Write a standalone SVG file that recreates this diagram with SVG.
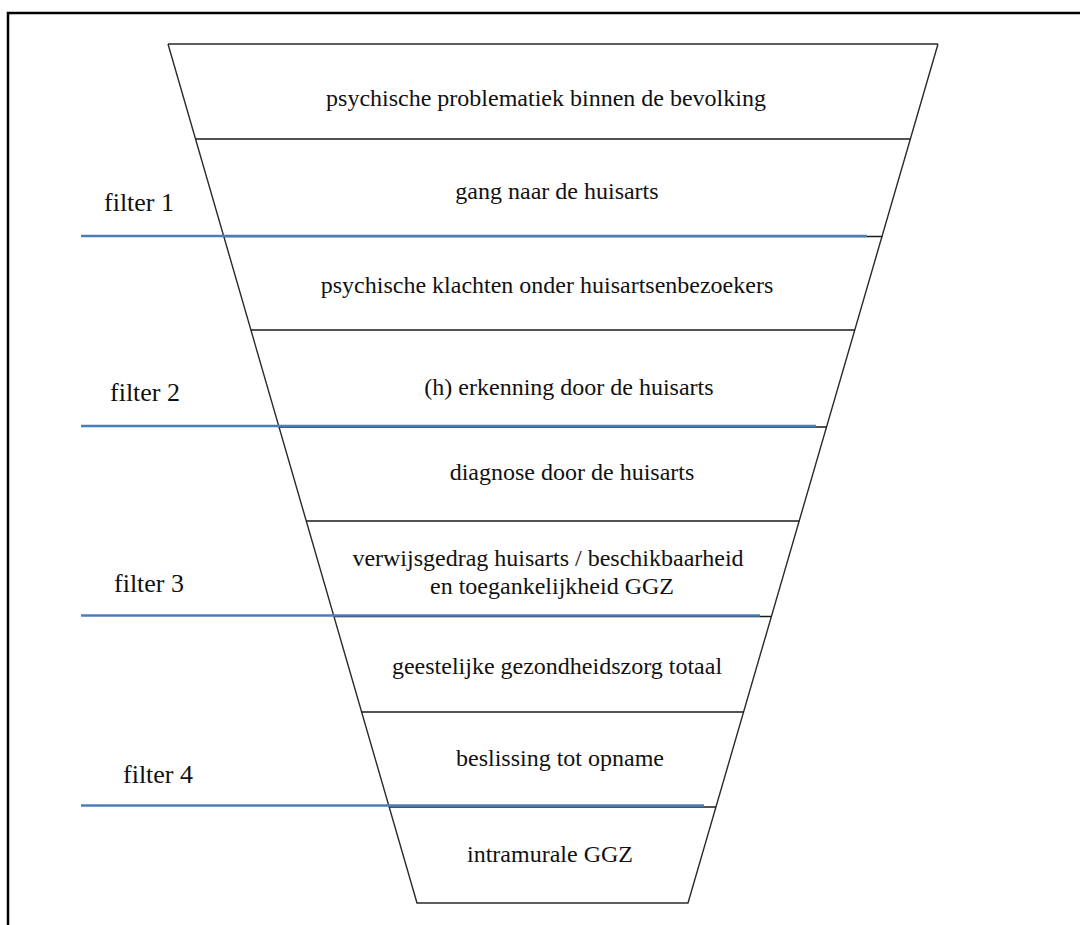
<svg xmlns="http://www.w3.org/2000/svg" width="1080" height="925" viewBox="0 0 1080 925">
  <style>
    .funnel { fill: none; stroke: #2a2a2a; stroke-width: 1.4; }
    .div { stroke: #1a1a1a; stroke-width: 1.4; }
    .filter { stroke: #4a7ebb; stroke-width: 2.6; }
    text { font-family: "Liberation Serif", "Times New Roman", serif; fill: #111; }
    .lbl { font-size: 24px; text-anchor: middle; }
    .flt { font-size: 26px; }
    .frame { fill: none; stroke: #000; stroke-width: 2.5; }
  </style>
  <rect width="1080" height="925" fill="#fff"/>
  <path class="frame" d="M8,930 L8,13 L1085,13"/>

  <g id="funnel">
    <path class="funnel" d="M168,44 L938,44 M168,44 L417,903 L688,903 L938,44"/>
    <line class="div" x1="195.5" y1="139" x2="910.4" y2="139"/>
    <line class="div" x1="223.7" y1="236.5" x2="882.5" y2="236.5"/>
    <line class="div" x1="250.9" y1="330" x2="854.8" y2="330"/>
    <line class="div" x1="278.9" y1="427" x2="826.6" y2="427"/>
    <line class="div" x1="306.3" y1="521" x2="799.2" y2="521"/>
    <line class="div" x1="334" y1="616.5" x2="771.3" y2="616.5"/>
    <line class="div" x1="361.6" y1="712" x2="743.6" y2="712"/>
    <line class="div" x1="389.2" y1="807" x2="715.9" y2="807"/>
  </g>

  <g id="connectors">
    <line class="filter" x1="81" y1="236" x2="867" y2="236"/>
    <line class="filter" x1="81" y1="426" x2="816" y2="426"/>
    <line class="filter" x1="81" y1="615.5" x2="760" y2="615.5"/>
    <line class="filter" x1="81" y1="805.5" x2="704" y2="805.5"/>
  </g>

  <g id="node-1"><text class="lbl" x="546" y="106" font-family="Liberation Serif, serif">psychische problematiek binnen de bevolking</text></g>
  <g id="node-2"><text class="lbl" x="557" y="199" font-family="Liberation Serif, serif">gang naar de huisarts</text></g>
  <g id="node-3"><text class="lbl" x="547" y="293" font-family="Liberation Serif, serif">psychische klachten onder huisartsenbezoekers</text></g>
  <g id="node-4"><text class="lbl" x="569" y="395" font-family="Liberation Serif, serif">(h) erkenning door de huisarts</text></g>
  <g id="node-5"><text class="lbl" x="572" y="480" font-family="Liberation Serif, serif">diagnose door de huisarts</text></g>
  <g id="node-6">
    <text class="lbl" x="548" y="566" font-family="Liberation Serif, serif">verwijsgedrag huisarts / beschikbaarheid</text>
    <text class="lbl" x="552" y="594" font-family="Liberation Serif, serif">en toegankelijkheid GGZ</text>
  </g>
  <g id="node-7"><text class="lbl" x="557" y="674" font-family="Liberation Serif, serif">geestelijke gezondheidszorg totaal</text></g>
  <g id="node-8"><text class="lbl" x="560" y="766" font-family="Liberation Serif, serif">beslissing tot opname</text></g>
  <g id="node-9"><text class="lbl" x="550" y="862" font-family="Liberation Serif, serif">intramurale GGZ</text></g>

  <g id="filter-1"><text class="flt" x="104" y="211">filter 1</text></g>
  <g id="filter-2"><text class="flt" x="110" y="401">filter 2</text></g>
  <g id="filter-3"><text class="flt" x="114" y="592">filter 3</text></g>
  <g id="filter-4"><text class="flt" x="123" y="783">filter 4</text></g>
</svg>
